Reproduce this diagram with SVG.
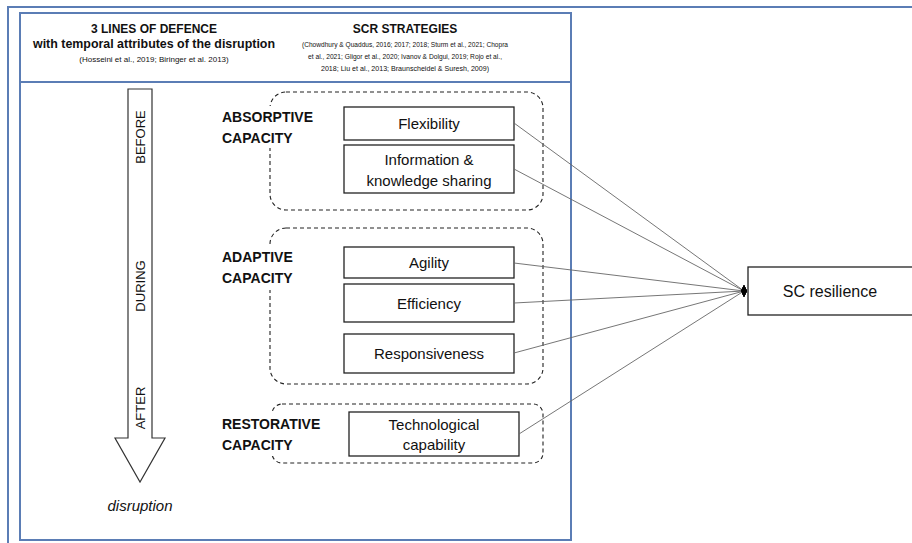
<svg xmlns="http://www.w3.org/2000/svg" width="912" height="543" viewBox="0 0 912 543">
<defs>
<style>
.frame{fill:none;stroke:#5b7db5;stroke-width:2}
.box{fill:#fff;stroke:#222;stroke-width:1.3}
.grp{fill:none;stroke:#222;stroke-width:1.1;stroke-dasharray:4 3}
.conn{stroke:#666;stroke-width:0.9;fill:none}
.bg{fill:#fff;stroke:none}
.t{font-family:"Liberation Sans",Arial,sans-serif;fill:#111}
.hb{font-size:12px;font-weight:bold}
.ref{font-size:8px}
.cap{font-size:14px;font-weight:bold}
.bt{font-size:15px}
.ar{font-size:13px}
</style>
<marker id="dia" markerWidth="8" markerHeight="14" refX="3" refY="6" orient="0" markerUnits="userSpaceOnUse">
<path d="M0,6 L3,0 L6,6 L3,12 Z" fill="#000"/>
</marker>
</defs>
<rect width="912" height="543" fill="#fff"/>
<g id="outer-frame">
<path class="frame" d="M8,543 L8,7 L912,7"/>
</g>
<g id="panel">
<rect class="frame" x="20" y="13" width="551" height="527"/>
<line class="frame" x1="20" y1="82" x2="571" y2="82"/>
</g>
<g id="header-left" class="t">
<text class="hb" x="154" y="33" text-anchor="middle">3 LINES OF DEFENCE</text>
<text class="hb" x="154" y="48" text-anchor="middle" textLength="242" lengthAdjust="spacingAndGlyphs">with temporal attributes of the disruption</text>
<text class="ref" x="154" y="62" text-anchor="middle">(Hosseini et al., 2019; Biringer et al. 2013)</text>
</g>
<g id="header-right" class="t">
<text class="hb" x="405" y="33" text-anchor="middle">SCR STRATEGIES</text>
<text class="ref" x="405" y="47" text-anchor="middle" textLength="206" lengthAdjust="spacingAndGlyphs">(Chowdhury &amp; Quaddus, 2016; 2017; 2018; Sturm et al., 2021; Chopra</text>
<text class="ref" x="405" y="59" text-anchor="middle" textLength="194" lengthAdjust="spacingAndGlyphs">et al., 2021; Gligor et al., 2020; Ivanov &amp; Dolgui, 2019; Rojo et al.,</text>
<text class="ref" x="405" y="71" text-anchor="middle" textLength="168" lengthAdjust="spacingAndGlyphs">2018; Liu et al., 2013; Braunscheidel &amp; Suresh, 2009)</text>
</g>
<g id="time-arrow">
<path d="M128,89 L152,89 L152,438 L165,438 L140,482 L115,438 L128,438 Z" fill="#fff" stroke="#333" stroke-width="1.2"/>
<text class="t ar" transform="translate(145,137) rotate(-90)" text-anchor="middle">BEFORE</text>
<text class="t ar" transform="translate(145,286) rotate(-90)" text-anchor="middle">DURING</text>
<text class="t ar" transform="translate(145,408) rotate(-90)" text-anchor="middle">AFTER</text>
<text class="t" x="140" y="511" text-anchor="middle" font-size="15" font-style="italic">disruption</text>
</g>
<g id="absorptive">
<rect class="grp" x="270" y="92" width="273" height="118" rx="16"/>
<rect class="bg" x="218" y="106" width="102" height="42"/>
<text class="t cap" x="222" y="122">ABSORPTIVE</text>
<text class="t cap" x="222" y="143">CAPACITY</text>
</g>
<g id="adaptive">
<rect class="grp" x="270" y="228" width="273" height="156" rx="16"/>
<rect class="bg" x="218" y="246" width="80" height="44"/>
<text class="t cap" x="222" y="262">ADAPTIVE</text>
<text class="t cap" x="222" y="283">CAPACITY</text>
</g>
<g id="restorative">
<rect class="grp" x="272" y="404" width="271" height="59" rx="10"/>
<rect class="bg" x="218" y="412" width="108" height="44"/>
<text class="t cap" x="222" y="429">RESTORATIVE</text>
<text class="t cap" x="222" y="450">CAPACITY</text>
</g>
<g id="flexibility">
<rect class="box" x="344" y="107" width="170" height="33"/>
<text class="t bt" x="429" y="129" text-anchor="middle">Flexibility</text>
</g>
<g id="information">
<rect class="box" x="344" y="145" width="170" height="48"/>
<text class="t bt" x="429" y="165" text-anchor="middle">Information &amp;</text>
<text class="t bt" x="429" y="186" text-anchor="middle">knowledge sharing</text>
</g>
<g id="agility">
<rect class="box" x="344" y="247" width="170" height="31"/>
<text class="t bt" x="429" y="268" text-anchor="middle">Agility</text>
</g>
<g id="efficiency">
<rect class="box" x="344" y="284" width="170" height="38"/>
<text class="t bt" x="429" y="309" text-anchor="middle">Efficiency</text>
</g>
<g id="responsiveness">
<rect class="box" x="344" y="334" width="170" height="39"/>
<text class="t bt" x="429" y="359" text-anchor="middle">Responsiveness</text>
</g>
<g id="technological">
<rect class="box" x="349" y="412" width="170" height="44"/>
<text class="t bt" x="434" y="430" text-anchor="middle">Technological</text>
<text class="t bt" x="434" y="450" text-anchor="middle">capability</text>
</g>
<g id="sc-resilience">
<rect class="box" x="748" y="267" width="170" height="48"/>
<text class="t" x="830" y="297" text-anchor="middle" font-size="16">SC resilience</text>
</g>
<g id="connectors">
<line class="conn" x1="514" y1="123" x2="744" y2="291" marker-end="url(#dia)"/>
<line class="conn" x1="514" y1="169" x2="744" y2="291" marker-end="url(#dia)"/>
<line class="conn" x1="514" y1="263" x2="744" y2="291" marker-end="url(#dia)"/>
<line class="conn" x1="514" y1="303" x2="744" y2="291" marker-end="url(#dia)"/>
<line class="conn" x1="514" y1="353" x2="744" y2="291" marker-end="url(#dia)"/>
<line class="conn" x1="519" y1="434" x2="744" y2="291" marker-end="url(#dia)"/>
</g>
</svg>
